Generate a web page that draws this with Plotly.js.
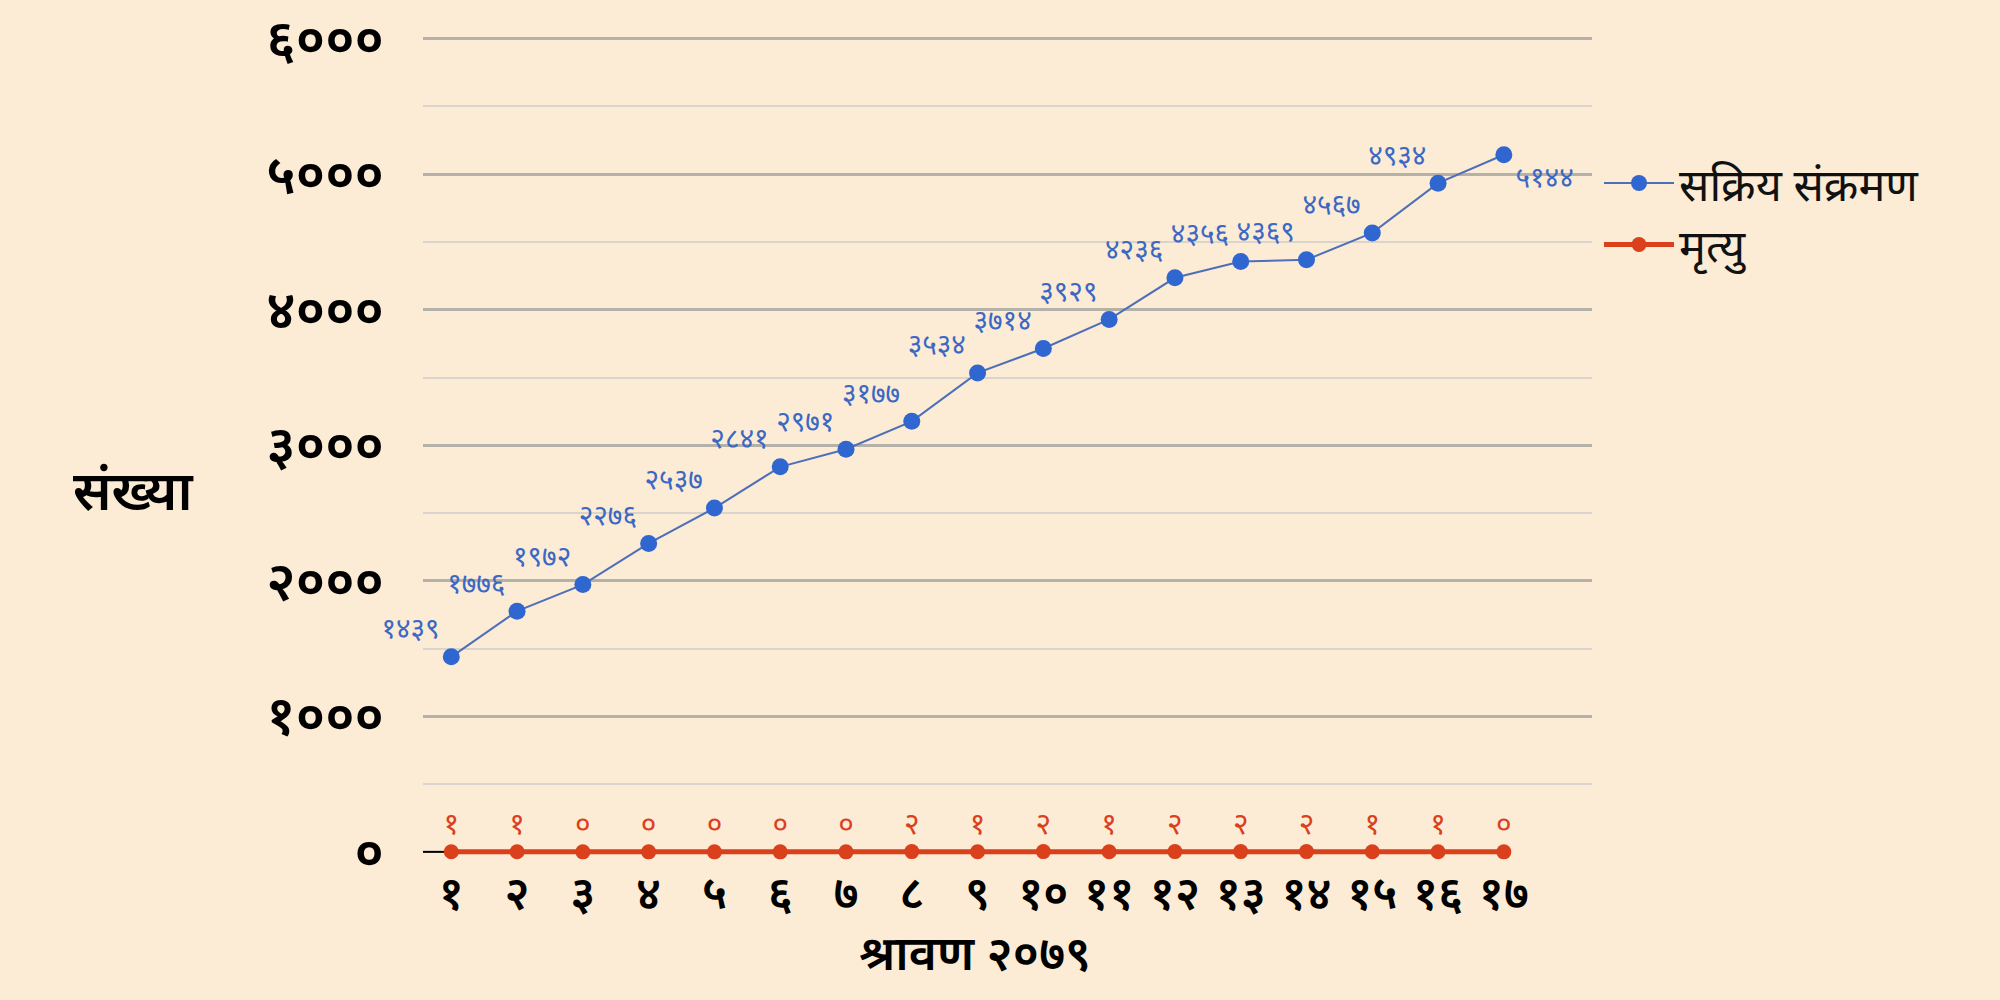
<!DOCTYPE html>
<html>
<head>
<meta charset="utf-8">
<script src="https://cdn.plot.ly/plotly-3.0.1.min.js"></script>
<style>
html,body{margin:0;padding:0;background:#FCEBD5;}
#chart{width:2000px;height:1000px;}
</style>
</head>
<body>
<div id="chart"></div>
<script>
// ---- data ----
const days = ['१','२','३','४','५','६','७','८','९','१०','११','१२','१३','१४','१५','१६','१७'];
const activeCases = [1439, 1776, 1972, 2276, 2537, 2841, 2971, 3177, 3534, 3714, 3929, 4236, 4356, 4369, 4567, 4934, 5144];
const deaths = [1, 1, 0, 0, 0, 0, 0, 2, 1, 2, 1, 2, 2, 2, 1, 1, 0];
const yTickVals = [0, 1000, 2000, 3000, 4000, 5000, 6000];
const yTickText = ['०', '१०००', '२०००', '३०००', '४०००', '५०००', '६०००'];
const seriesNames = ['सक्रिय संक्रमण', 'मृत्यु'];
const yTitle = 'संख्या';
const xTitle = 'श्रावण २०७९';

// ---- helpers ----
const devDigits = ['०','१','२','३','४','५','६','७','८','९'];
function toDev(n){ return String(n).split('').map(c => /[0-9]/.test(c) ? devDigits[+c] : c).join(''); }

const FONT = '"Noto Sans Devanagari", "Noto Sans", "DejaVu Sans", sans-serif';
const BLUE = '#2F66D0';
const BLUE_LINE = '#4D6FB8';
const RED = '#D9401B';

const activePos = activeCases.map((v, i) => i === activeCases.length - 1 ? 'bottom right' : 'top left');
const deathPos = deaths.map(() => 'top center');

const traces = [
  {
    x: days, y: activeCases, type: 'scatter', mode: 'lines+markers+text',
    name: seriesNames[0], legendgroup: 'a',
    line: {color: BLUE_LINE, width: 2},
    marker: {color: BLUE, size: 17},
    text: activeCases.map(toDev), textposition: activePos,
    textfont: {family: FONT, size: 28, color: '#3A68C4'},
    cliponaxis: false, hoverinfo: 'x+y'
  },
  {
    x: days, y: deaths, type: 'scatter', mode: 'lines+markers+text',
    name: seriesNames[1], legendgroup: 'b',
    line: {color: RED, width: 5},
    marker: {color: RED, size: 15},
    text: deaths.map(toDev), textposition: deathPos,
    textfont: {family: FONT, size: 30, color: RED},
    cliponaxis: false, hoverinfo: 'x+y'
  },
  // invisible helper trace so the grid-only overlay axis is drawn
  {x: [days[0]], y: [0], yaxis: 'y2', type: 'scatter', mode: 'markers',
   marker: {opacity: 0}, showlegend: false, hoverinfo: 'skip'}
];

const layout = {
  width: 2000, height: 1000,
  paper_bgcolor: '#FCEBD5', plot_bgcolor: '#FCEBD5',
  margin: {l: 423, r: 408, t: 36, b: 140},
  font: {family: FONT, color: '#000'},
  showlegend: true,
  legend: {
    x: 1.006, xanchor: 'left', y: 0.865, yanchor: 'top',
    font: {family: FONT, size: 45, color: '#111'},
    bgcolor: 'rgba(0,0,0,0)', tracegroupgap: 0, itemwidth: 70
  },
  xaxis: {
    type: 'category', range: [-0.43, 17.34],
    showgrid: false, zeroline: false, showline: false,
    ticks: '', tickfont: {family: FONT, size: 46, color: '#000', weight: 600},
    ticklabelstandoff: 2, fixedrange: true
  },
  yaxis: {
    range: [-60, 6020], tickvals: yTickVals, ticktext: yTickText,
    showgrid: false,
    minor: {tickvals: yTickVals.slice(0, -1).map(v => v + 500), showgrid: true,
            gridcolor: '#D9D5CC', gridwidth: 2, ticks: ''},
    zeroline: false, showline: false, ticks: '',
    tickfont: {family: FONT, size: 54, color: '#000', weight: 600},
    ticklabelstandoff: 38, fixedrange: true
  },
  yaxis2: {
    overlaying: 'y', matches: 'y', side: 'left',
    tickvals: yTickVals.filter(v => v > 0), showticklabels: false,
    showgrid: true, gridcolor: '#B4B1A9', gridwidth: 3,
    zeroline: false, showline: false, ticks: '', fixedrange: true
  },
  shapes: [
    {type: 'line', xref: 'x', yref: 'y', x0: -0.43, x1: 0, y0: 0, y1: 0,
     line: {color: '#000', width: 2}, layer: 'between'}
  ],
  annotations: [
    {text: yTitle, xref: 'paper', yref: 'paper', x: (133 - 423) / 1169, y: (860 - 497) / 824,
     xanchor: 'center', yanchor: 'middle', showarrow: false,
     font: {family: FONT, size: 54, color: '#000', weight: 600}},
    {text: xTitle, xref: 'paper', yref: 'paper', x: (975 - 423) / 1169, y: (860 - 958) / 824,
     xanchor: 'center', yanchor: 'middle', showarrow: false,
     font: {family: FONT, size: 48, color: '#000', weight: 600}}
  ]
};

Plotly.newPlot('chart', traces, layout, {displayModeBar: false, staticPlot: true});
</script>
</body>
</html>
